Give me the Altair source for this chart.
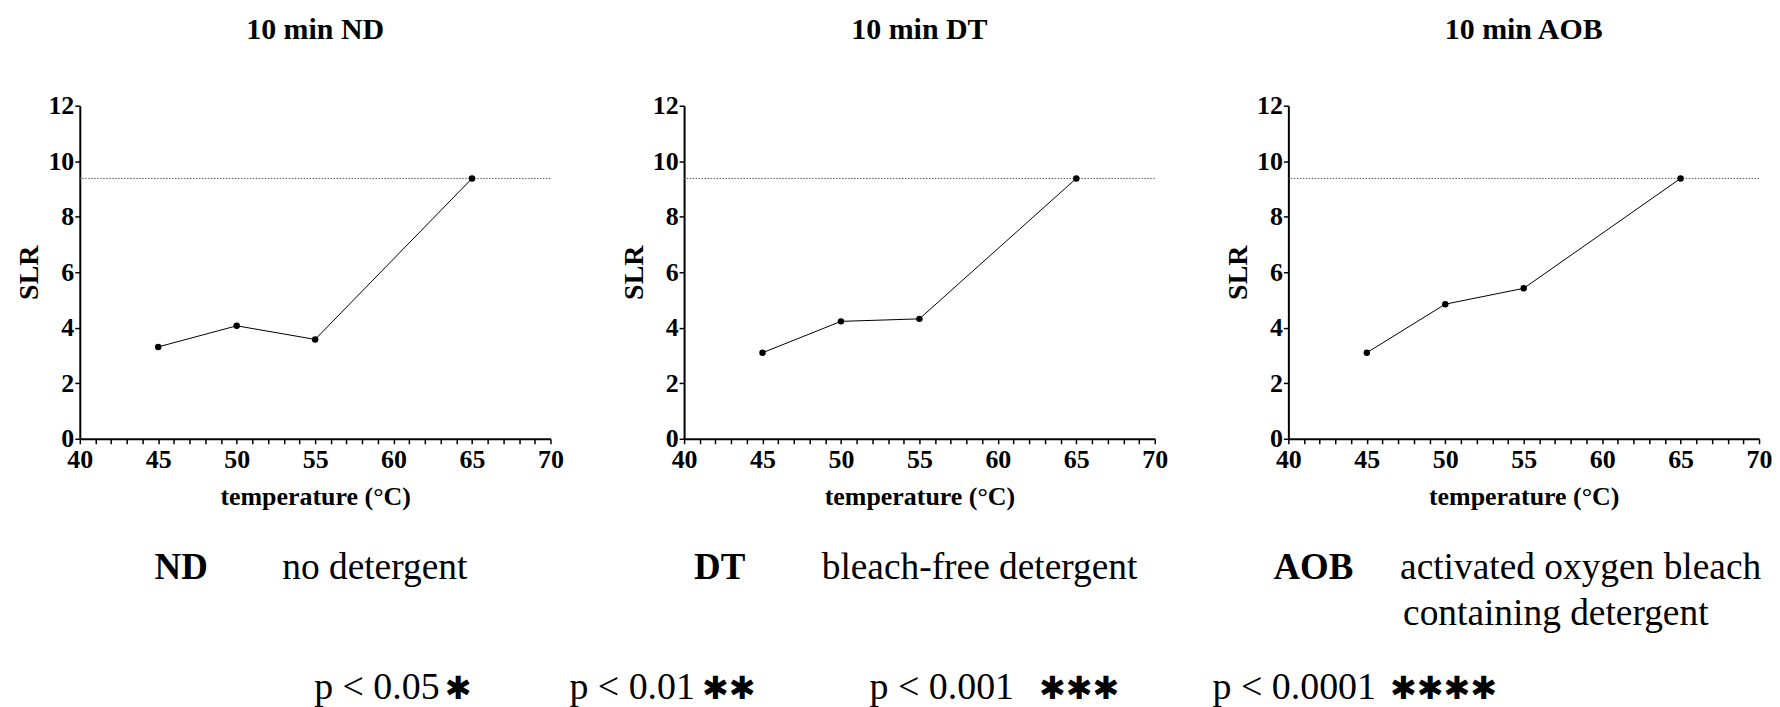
import altair as alt
import pandas as pd

# ---------------- data ----------------
temps = [45, 50, 55, 65]
slr_nd = [3.31, 4.07, 3.58, 9.38]
slr_dt = [3.10, 4.23, 4.32, 9.38]
slr_aob = [3.10, 4.85, 5.42, 9.38]
ref_level = [9.38]
panel_titles = ["10 min ND", "10 min DT", "10 min AOB"]
x_tick_values = list(range(40, 71))
y_tick_values = [0, 2, 4, 6, 8, 10, 12]

abbr = ["ND", "DT", "AOB"]
desc_line1 = ["no detergent", "bleach-free detergent", "activated oxygen bleach"]
desc_line2 = ["", "", "containing detergent"]
p_texts = ["p < 0.05", "p < 0.01", "p < 0.001", "p < 0.0001"]
stars = ["✱", "✱✱", "✱✱✱", "✱✱✱✱"]

SERIF = "Liberation Serif"
W, H = 472, 334


def txt(s, x, y, size, weight="normal", font=SERIF, align="left", baseline="alphabetic", opacity=1):
    return alt.Chart(pd.DataFrame({"t": [s]})).mark_text(
        font=font, fontSize=size, fontWeight=weight, align=align, baseline=baseline,
        color="black", opacity=opacity
    ).encode(x=alt.value(x), y=alt.value(y), text="t:N")


def panel(values, title, extras):
    df = pd.DataFrame({"temperature": temps, "SLR": values})
    x = alt.X("temperature:Q",
              scale=alt.Scale(domain=[40, 70], nice=False, zero=False),
              axis=alt.Axis(values=x_tick_values,
                            labelExpr="datum.value % 5 === 0 ? datum.label : ''",
                            title="temperature (°C)", labelOverlap=False, labelFlush=False))
    y = alt.Y("SLR:Q", scale=alt.Scale(domain=[0, 12], nice=False),
              axis=alt.Axis(values=y_tick_values, title="SLR", labelOverlap=False))
    ref = alt.Chart(pd.DataFrame({"SLR": ref_level})).mark_rule(
        color="#555555", strokeWidth=1, strokeDash=[1.5, 1.5]
    ).encode(y="SLR:Q")
    line = alt.Chart(df).mark_line(color="black", strokeWidth=1).encode(x=x, y=y)
    pts = alt.Chart(df).mark_point(filled=True, size=42, color="black", opacity=1).encode(x=x, y=y)
    head = txt(title, W / 2, -67, 30, "bold", align="center")
    return alt.layer(line, ref, pts, head, *extras).properties(width=W, height=H)


STAR_FONT = "DejaVu Sans"
# panel-relative text positions (plot origins at page x=80, 686, 1292; y=105)
ex1 = [
    txt(".", -72, -97, 2, baseline="top", opacity=0),
    txt(abbr[0], 75, 475, 37, "bold"),
    txt(desc_line1[0], 203, 475, 37.5),
    txt(p_texts[0], 235, 595, 38),
    txt(stars[0], 366, 595, 32, "bold", font=STAR_FONT),
    txt(p_texts[1], 491, 595, 38),
    txt(stars[1], 624, 595, 32, "bold", font=STAR_FONT),
    txt(p_texts[2], 792, 595, 38),
    txt(stars[2], 962, 595, 32, "bold", font=STAR_FONT),
    txt(p_texts[3], 1136, 595, 38),
    txt(stars[3], 1314, 595, 32, "bold", font=STAR_FONT),
]
ex2 = [
    txt(abbr[1], 10, 475, 37, "bold"),
    txt(desc_line1[1], 138, 475, 37.5),
]
ex3 = [
    txt(abbr[2], -15, 475, 37, "bold"),
    txt(desc_line1[2], 112, 475, 37.5),
    txt(desc_line2[2], 115, 521, 37.5),
]

chart = alt.hconcat(
    panel(slr_nd, panel_titles[0], ex1),
    panel(slr_dt, panel_titles[1], ex2),
    panel(slr_aob, panel_titles[2], ex3),
    spacing=134, bounds="flush",
).properties(padding=0).configure_view(stroke=None).configure_axis(
    grid=False, domainColor="black", domainWidth=2, tickColor="black", tickWidth=1.5,
    tickSize=5, labelFont=SERIF, labelFontWeight="bold", labelFontSize=26, labelColor="black",
    labelPadding=1, titleFont=SERIF, titleFontWeight="bold", titleColor="black"
).configure_axisX(titleFontSize=26, titlePadding=11, labelPadding=3).configure_axisY(
    titleFontSize=28, titlePadding=4
)

chart.save("out.html", embed_options={"renderer": "svg", "actions": False})
